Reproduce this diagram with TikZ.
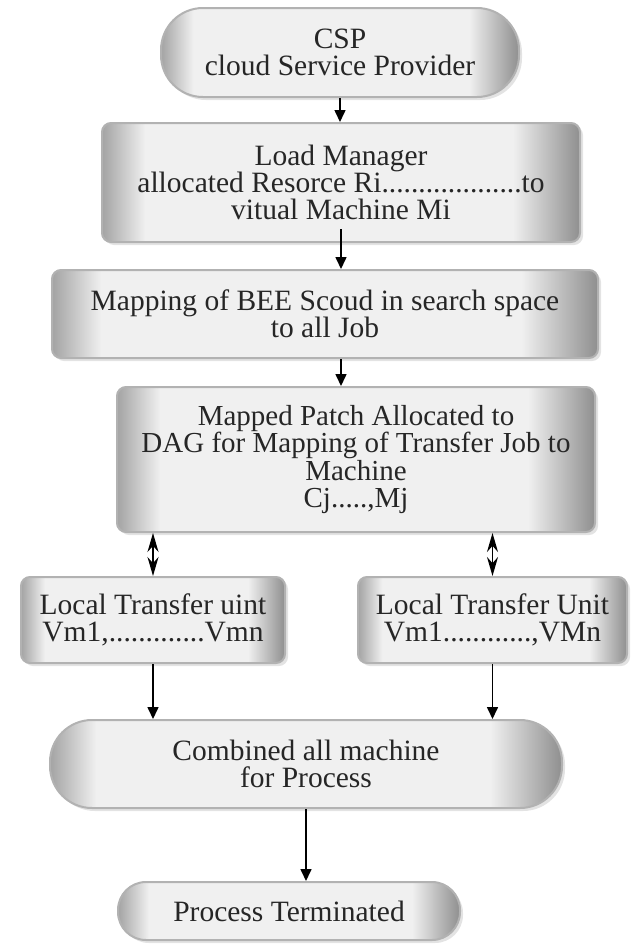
\documentclass[tikz,border=0pt]{standalone}
\usepackage{fontspec}
\setmainfont{Liberation Serif}
\usetikzlibrary{arrows.meta,shadows}

% bevelled grey face: dark rims left and right, light middle
\colorlet{rimL}{black!36}
\colorlet{rimR}{black!44}
\colorlet{face}{black!6}
\pgfdeclarehorizontalshading{bevel}{100bp}{color(0bp)=(rimL); color(25bp)=(rimL); color(29.5bp)=(face); color(68bp)=(face); color(75bp)=(rimR); color(100bp)=(rimR)}

\begin{document}
\begin{tikzpicture}[x=1pt,y=-1pt,
  txt/.style={font=\fontsize{29.5}{27}\selectfont, text=black!85, align=center},
  card/.style={txt, shading=bevel, draw=black!30, line width=2pt, inner sep=0pt,
    drop shadow={opacity=0.22, shadow xshift=3pt, shadow yshift=-3pt}},
  boxc/.style={card, rounded corners=9pt},
  pill/.style={card, rounded corners=#1},
  flow/.style={line width=1.6pt, -{Triangle[width=11pt,length=12pt]}},
  both/.style={line width=1.6pt, {Stealth[width=11pt,length=19pt]}-{Stealth[width=11pt,length=19pt]}}
]
\useasboundingbox (0,0) rectangle (638,945);

\node[pill=42pt, minimum width=358pt, minimum height=89pt] (csp) at (340,52.5)
  {CSP\\cloud Service Provider};
\node[boxc, minimum width=478pt, minimum height=119pt] (lm) at (341,182.5)
  {Load Manager\\allocated Resorce Ri...................to\\vitual Machine Mi};
\node[boxc, minimum width=546pt, minimum height=88pt] (map) at (325,314)
  {Mapping of BEE Scoud in search space\\to all Job};
\node[boxc, minimum width=478pt, minimum height=145pt, font=\fontsize{29}{27.5}\selectfont] (mp) at (356,459.5)
  {Mapped Patch Allocated to\\DAG for Mapping of Transfer Job to\\Machine\\Cj.....,Mj};
\node[boxc, minimum width=264pt, minimum height=86pt] (l1) at (153,620)
  {Local Transfer uint\\Vm1,.............Vmn};
\node[boxc, minimum width=269pt, minimum height=86pt] (l2) at (492.5,620)
  {Local Transfer Unit\\Vm1............,VMn};
\node[pill=42pt, minimum width=512pt, minimum height=88pt] (comb) at (306,764)
  {Combined all machine\\for Process};
\node[pill=28pt, minimum width=342pt, minimum height=58pt] (term) at (289,911)
  {Process Terminated};

\draw[flow] (csp.south) -- (csp.south |- lm.north);
\draw[flow] ([yshift=14pt]lm.south) -- (lm.south |- map.north);
\draw[flow] (lm.south |- map.south) -- (lm.south |- mp.north);
\draw[both] (l1.north |- mp.south) -- (l1.north);
\draw[both] (l2.north |- mp.south) -- (l2.north);
\draw[flow] (l1.south) -- (l1.south |- comb.north);
\draw[flow] (l2.south) -- (l2.south |- comb.north);
\draw[flow] (comb.south) -- (comb.south |- term.north);
\end{tikzpicture}
\end{document}
